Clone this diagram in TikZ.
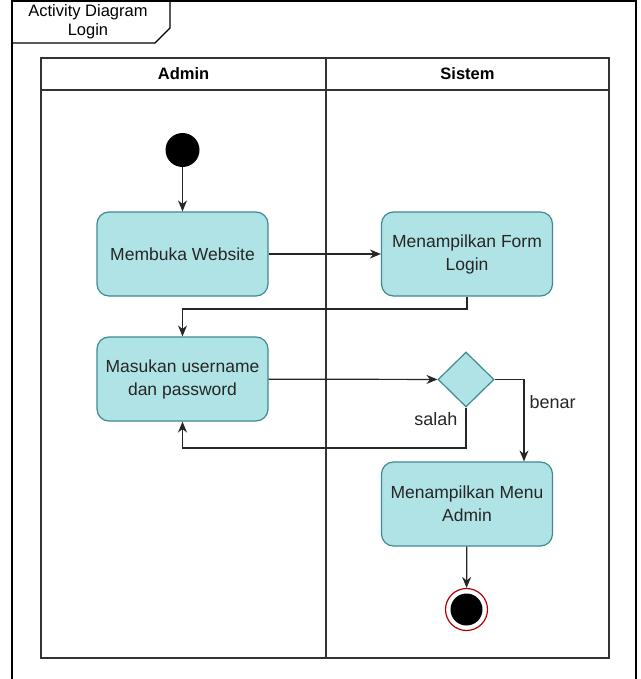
\documentclass[tikz,border=0pt]{standalone}
\usepackage{fontspec}
\setmainfont{Liberation Sans}
\usetikzlibrary{arrows.meta,shapes.geometric}
\definecolor{actfill}{HTML}{B0E3E6}
\definecolor{actdraw}{HTML}{3E8A90}
\definecolor{lanec}{HTML}{333333}
\definecolor{endred}{HTML}{B20000}
\begin{document}
\begin{tikzpicture}[x=1pt,y=-1pt,
  act/.style={rectangle,rounded corners=12pt,draw=actdraw,fill=actfill,line width=1.2pt,
    minimum width=171pt,minimum height=84pt,align=center,font=\fontsize{17.5}{23}\selectfont,text=black!85},
  dec/.style={diamond,draw=actdraw,fill=actfill,line width=1.2pt,minimum width=56pt,minimum height=55pt,inner sep=0pt},
  flow/.style={line width=1.2pt,draw=black!85,-{Stealth[length=11pt,width=9pt]}},
  lbl/.style={font=\fontsize{18}{21}\selectfont,text=black!85},
  lane/.style={draw=lanec,line width=1.6pt}]
\useasboundingbox (0,0) rectangle (640,679);
\fill[white] (0,0) rectangle (640,679);
% outer frame
\draw[line width=1.3pt] (12,-2) -- (12,682);
\draw[line width=1.3pt] (636,-2) -- (636,682);
\draw[line width=1.3pt] (12,1) -- (636,1);
\draw[line width=1.1pt] (12,43) -- (155,43) -- (170,28) -- (170,1);
\node[font=\fontsize{16.5}{19}\selectfont,align=center] (title) at (88,22) {Activity Diagram\\Login};
% swimlanes
\draw[lane] (41,58) rectangle (609,658);
\draw[lane] (41,90) -- (609,90);
\draw[lane] (326,58) -- (326,658);
\node[font=\bfseries\fontsize{16.5}{19}\selectfont] (hadmin) at (183.5,74) {Admin};
\node[font=\bfseries\fontsize{16.5}{19}\selectfont] (hsis) at (467.5,74) {Sistem};
% nodes
\node[circle,fill=black,minimum size=34pt,inner sep=0pt] (start) at (182.5,150) {};
\node[act] (web) at (182.5,254) {Membuka Website};
\node[act] (form) at (467,254) {Menampilkan Form\\Login};
\node[act] (login) at (182.5,379) {Masukan username\\dan password};
\node[dec] (cek) at (466,379.5) {};
\node[act] (menu) at (467,504) {Menampilkan Menu\\Admin};
\node[circle,draw=endred,line width=1.2pt,fill=white,minimum size=42pt,inner sep=0pt] (end) at (466.5,609.5) {};
\node[circle,fill=black,minimum size=32pt,inner sep=0pt] (endin) at (end.center) {};
% connectors
\coordinate (c1) at (467,309);
\coordinate (c2) at (182.5,309);
\coordinate (c3) at (524,379.5);
\coordinate (c4) at (466,448);
\coordinate (c5) at (182.5,448);
\draw[flow] (start) -- (web);
\draw[flow] (web) -- (form);
\draw[flow] (form.south) -- (c1) -- (c2) -- (login.north);
\draw[flow] (login) -- (cek);
\draw[flow] (cek.east) -- (c3) -- (c3 |- menu.north);
\draw[flow] (cek.south) -- (c4) -- (c5) -- (login.south);
\draw[flow] (menu) -- (end);
\node[lbl,anchor=west] (benar) at (526,402) {benar};
\node[lbl,anchor=east] (salah) at (461,419) {salah};
\end{tikzpicture}
\end{document}
